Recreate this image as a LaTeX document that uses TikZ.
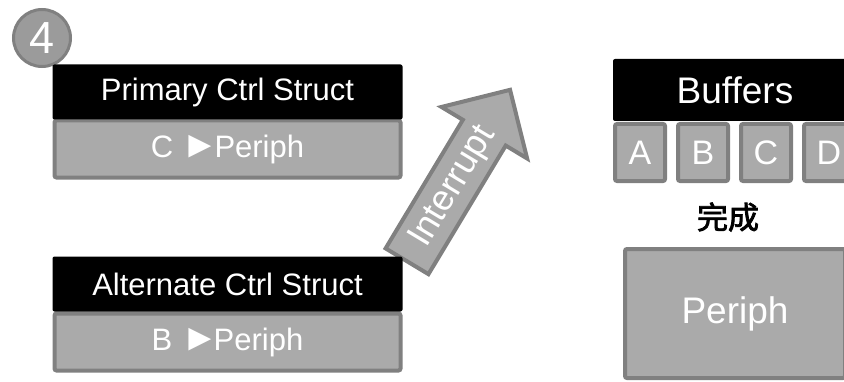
\documentclass[tikz,border=0pt]{standalone}
\usepackage{fontspec}
\setmainfont{Liberation Sans}
\newfontfamily\cjk[FakeBold=2.5]{Noto Sans CJK SC}
\usetikzlibrary{positioning, shapes.arrows}
\definecolor{boxgray}{RGB}{170,170,170}
\definecolor{edgegray}{RGB}{128,128,128}
\definecolor{numgray}{RGB}{155,155,155}

\newcommand{\tri}{{\fontsize{38}{38}\selectfont ►}\kern-5pt}

\tikzset{
  hdr/.style={fill=black, text=white, rounded corners=2pt, inner sep=0pt,
    minimum width=350pt, minimum height=55pt, font=\fontsize{31}{36}\selectfont},
  subbox/.style={fill=boxgray, draw=edgegray, line width=4pt, rounded corners=2pt,
    text=white, inner sep=0pt, minimum width=346pt, minimum height=57pt,
    font=\fontsize{31}{36}\selectfont},
  bufbox/.style={fill=boxgray, draw=edgegray, line width=4pt, rounded corners=2pt,
    text=white, inner sep=0pt, minimum width=50pt, minimum height=57pt,
    font=\fontsize{34}{38}\selectfont},
  numc/.style={circle, fill=numgray, draw=edgegray, line width=3pt, text=white,
    inner sep=0pt, minimum size=57pt, font=\fontsize{45}{48}\selectfont},
  intarrow/.style={single arrow, fill=boxgray, draw=edgegray, line width=4pt,
    text=white, font=\fontsize{36}{40}\selectfont, inner xsep=4pt, inner ysep=7pt,
    text height=26pt, text depth=6pt, minimum height=200pt, minimum width=97pt,
    single arrow head extend=25pt}
}

\begin{document}
\begin{tikzpicture}[x=1pt, y=1pt]
  \useasboundingbox (0,0) rectangle (844,381);
  \clip (0,0) rectangle (844,381);

  \node[numc] (num) at (42,343) {4};

  \node[intarrow, rotate=59, anchor=tail] (irq) at (406,118) {Interrupt};

  % control structures
  \node[subbox] (pbody) at (227.5,232) {C \tri Periph};
  \node[hdr] (phead) at (227.5,289) {Primary Ctrl Struct};
  \node[subbox] (abody) at (227.5,39) {B \tri Periph};
  \node[hdr] (ahead) at (227.5,97) {Alternate Ctrl Struct};

  % buffers
  \node[hdr, minimum width=244pt, minimum height=62pt,
    font=\fontsize{37}{42}\selectfont] (buf) at (735,291) {Buffers};
  \node[bufbox] (bufA) at (640,228.5) {A};
  \node[bufbox, right=9pt of bufA] (bufB) {B};
  \node[bufbox, right=9pt of bufB] (bufC) {C};
  \node[bufbox, right=9pt of bufC] (bufD) {D};

  \node[font=\cjk\fontsize{31}{34}\selectfont] (done) at (728,164) {完成};

  \node[subbox, minimum width=220pt, minimum height=129pt,
    font=\fontsize{37}{42}\selectfont] (periph) at (735,67.5) {Periph};
\end{tikzpicture}
\end{document}
